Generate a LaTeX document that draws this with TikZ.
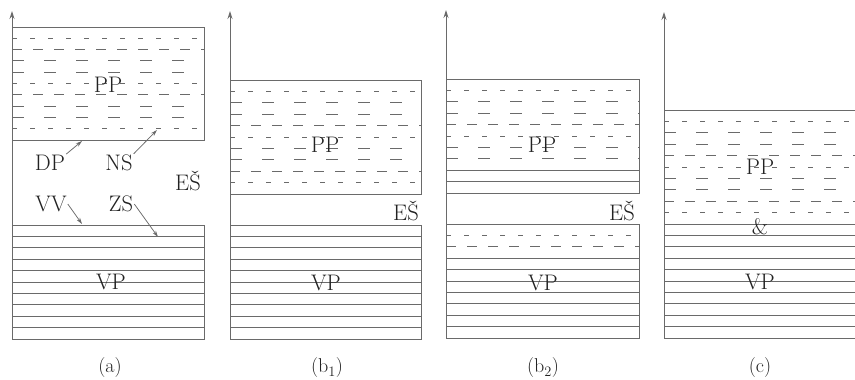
\documentclass[tikz,border=0pt]{standalone}
\usetikzlibrary{arrows.meta}
\definecolor{lc}{HTML}{6A6A6A}
\definecolor{tc}{HTML}{222222}
\begin{document}
\begin{tikzpicture}[x=1pt,y=-1pt,
  ln/.style={draw=lc, line width=0.9pt},
  da/.style={draw=lc, line width=0.9pt, dash pattern=on 5pt off 13pt},
  db/.style={draw=lc, line width=0.9pt, dash pattern=on 10pt off 11pt},
  dc/.style={draw=lc, line width=0.9pt, dash pattern=on 12pt off 20pt},
  axis/.style={draw=lc, line width=0.9pt, -{Stealth[length=8pt,width=5pt]}},
  arr/.style={draw=lc, line width=0.75pt, -{Stealth[length=6.5pt,width=4pt]}},
  lab/.style={text=tc, font=\fontsize{22.5}{26}\selectfont, inner sep=1pt},
  panellab/.style={text=tc, font=\fontsize{20}{24}\selectfont, inner sep=1pt}
]
\useasboundingbox (0,0) rectangle (855,380);

% ---------- panel (a) ----------
\draw[ln] (12,27) rectangle (204,140);
\foreach \k/\s in {1/da,2/db,3/dc,4/dc,5/da,6/db,7/dc,8/dc,9/da}
  \draw[\s] (12,{27+11.3*\k}) -- (204,{27+11.3*\k});
\draw[ln] (12,225) rectangle (204,339);
\foreach \k in {1,...,9}
  \draw[ln] (12,{225+11.4*\k}) -- (204,{225+11.4*\k});
\draw[axis] (12,339) -- (12,11);

\node[lab] (ppa) at (108,85) {PP};
\node[lab] (vpa) at (111,282) {VP};
\node[lab] (dp) at (50,163) {DP};
\node[lab] (ns) at (119,163) {NS};
\node[lab] (esa) at (188,181) {E\v{S}};
\node[lab] (vv) at (51,204) {VV};
\node[lab] (zs) at (121,204) {ZS};
\coordinate (dpend) at (82,141);
\coordinate (nsend) at (157,130);
\coordinate (vvend) at (82,224);
\coordinate (zsend) at (158,237);
\draw[arr] (dp.north east) -- (dpend);
\draw[arr] (ns.north east) -- (nsend);
\draw[arr] (vv.east) -- (vvend);
\draw[arr] (zs.east) -- (zsend);
\node[panellab] (capa) at (110,368) {(a)};

% ---------- panel (b1) ----------
\draw[ln] (230,80) rectangle (421,194);
\foreach \k/\s in {1/da,2/dc,3/dc,4/db,5/da,6/dc,7/dc,8/db,9/da}
  \draw[\s] (230,{80+11.4*\k}) -- (421,{80+11.4*\k});
\draw[ln] (230,225) rectangle (421,339);
\foreach \k in {1,...,9}
  \draw[ln] (230,{225+11.4*\k}) -- (421,{225+11.4*\k});
\draw[axis] (230,339) -- (230,11);
\node[lab] (ppb) at (325,145) {PP};
\node[lab] (esb) at (406,211) {E\v{S}};
\node[lab] (vpb) at (326,283) {VP};
\node[panellab] (capb) at (327,368) {(b$_1$)};

% ---------- panel (b2) ----------
\draw[ln] (446,79) rectangle (639,193);
\foreach \k/\s in {1/da,2/dc,3/dc,4/db,5/da,6/dc,7/dc,8/ln,9/ln}
  \draw[\s] (446,{79+11.4*\k}) -- (639,{79+11.4*\k});
\draw[ln] (446,224) rectangle (639,338);
\foreach \k/\s in {1/da,2/db,3/ln,4/ln,5/ln,6/ln,7/ln,8/ln,9/ln}
  \draw[\s] (446,{224+11.4*\k}) -- (639,{224+11.4*\k});
\draw[axis] (446,338) -- (446,10);
\node[lab] (ppc) at (542,145) {PP};
\node[lab] (esc) at (622,211) {E\v{S}};
\node[lab] (vpc) at (543,283) {VP};
\node[panellab] (capc) at (543,368) {(b$_2$)};

% ---------- panel (c) ----------
\draw[ln] (664,110) -- (858,110);
\draw[ln] (664,338) -- (858,338);
\foreach \k/\s in {1/da,2/dc,3/dc,4/db,5/da,6/dc,7/dc,8/db,9/da}
  \draw[\s] (664,{110+11.4*\k}) -- (858,{110+11.4*\k});
\foreach \k in {10,...,19}
  \draw[ln] (664,{110+11.4*\k}) -- (858,{110+11.4*\k});
\draw[axis] (664,338) -- (664,12);
\node[lab] (ppd) at (760,167) {PP};
\node[lab] (amp) at (760,227) {\&};
\node[lab] (vpd) at (760,282) {VP};
\node[panellab] (capd) at (760,368) {(c)};
\end{tikzpicture}
\end{document}
